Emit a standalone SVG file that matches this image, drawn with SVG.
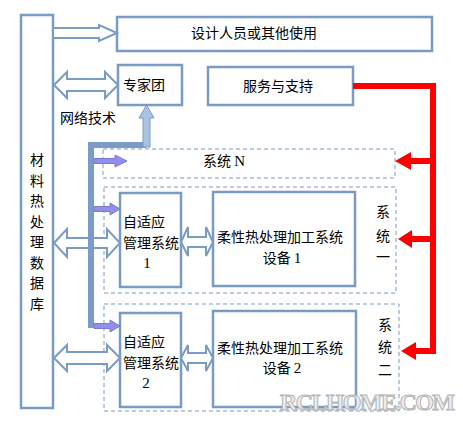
<svg xmlns="http://www.w3.org/2000/svg" width="463" height="427" viewBox="0 0 463 427">
<style>
.box{fill:#fff;stroke:#7a9cc4;stroke-width:2.5}
.dash{fill:none;stroke:#7a9cc4;stroke-width:1;stroke-dasharray:4,3}
.hol{fill:#fff;stroke:#7a9cc4;stroke-width:2}
.t{font-family:"Noto Sans CJK SC","Liberation Sans",sans-serif;font-size:14px;fill:#000}
.n{font-family:"Liberation Serif",serif;font-size:15px;fill:#000}
.red{fill:none;stroke:#ff0000;stroke-width:6}
.redh{fill:#ff0000}
.pur{fill:#9090ec;stroke:#7a7ad0;stroke-width:1}
</style>
<rect width="463" height="427" fill="#fff"/>
<g id="db"><rect class="box" x="21" y="15" width="32" height="393"/>
<text class="t" x="37" text-anchor="middle"><tspan x="37" y="165">材</tspan><tspan x="37" y="185.5">料</tspan><tspan x="37" y="206">热</tspan><tspan x="37" y="226.5">处</tspan><tspan x="37" y="247">理</tspan><tspan x="37" y="267.5">数</tspan><tspan x="37" y="288">据</tspan><tspan x="37" y="308.5">库</tspan></text></g>
<g id="top"><rect class="box" x="117" y="17" width="315" height="34"/><text class="t" x="254" y="38" text-anchor="middle" font-size="15">设计人员或其他使用</text></g>
<g id="zjt"><rect class="box" x="118" y="65" width="64" height="40"/><text class="t" x="123" y="90">专家团</text></g>
<g id="fw"><rect class="box" x="208" y="67" width="145" height="38"/><text class="t" x="278" y="91" text-anchor="middle">服务与支持</text></g>
<text class="t" x="60" y="123" font-size="13">网络技术</text>
<g id="sysN"><rect class="dash" x="103" y="149" width="292" height="29"/><text class="t" x="203" y="166">系统 <tspan class="n">N</tspan></text></g>
<g id="sys1"><rect class="dash" x="104" y="187" width="292" height="106"/>
<text class="t" x="383" y="217" text-anchor="middle">系</text><text class="t" x="383" y="241" text-anchor="middle">统</text><text class="t" x="383" y="262" text-anchor="middle">一</text></g>
<g id="ad1"><rect class="box" x="120" y="193" width="61" height="94"/>
<text class="t" x="123" y="227">自适应</text><text class="t" x="123" y="248">管理系统</text><text class="n" x="147" y="268" text-anchor="middle">1</text></g>
<g id="rx1"><rect class="box" x="213" y="192" width="142" height="94"/>
<text class="t" x="217" y="242">柔性热处理加工系统</text><text class="t" x="282" y="263" text-anchor="middle">设备 <tspan class="n">1</tspan></text></g>
<g id="sys2"><rect class="dash" x="104" y="304" width="295" height="107"/>
<text class="t" x="385" y="330" text-anchor="middle">系</text><text class="t" x="385" y="352" text-anchor="middle">统</text><text class="t" x="385" y="375" text-anchor="middle">二</text></g>
<g id="ad2"><rect class="box" x="120" y="313" width="61" height="94"/>
<text class="t" x="123" y="347">自适应</text><text class="t" x="123" y="368">管理系统</text><text class="n" x="146" y="388" text-anchor="middle">2</text></g>
<g id="rx2"><rect class="box" x="213" y="311" width="143" height="96"/>
<text class="t" x="217" y="353">柔性热处理加工系统</text><text class="t" x="282" y="373" text-anchor="middle">设备 <tspan class="n">2</tspan></text></g>
<g id="connectors">
<polygon class="hol" points="53,28 99,28 99,25 117,33 99,41 99,38 53,38"/>
<polygon class="hol" points="54,85 67,72 67,79 105,79 105,72 118,85 105,98 105,91 67,91 67,98"/>
<polygon class="hol" points="54,243 67,229 67,238 107,238 107,229 120,243 107,257 107,248 67,248 67,257"/>
<polygon class="hol" points="181,242 188,227 188,237 206,237 206,227 213,242 206,256 206,247 188,247 188,256"/>
<polygon class="hol" points="54,358 67,345 67,352 107,352 107,345 120,358 107,371 107,364 67,364 67,371"/>
<polygon class="hol" points="181,358 188,345 188,353 206,353 206,345 213,358 206,371 206,363 188,363 188,371"/>
<path d="M91,328 V145 H146" fill="none" stroke="#7a9cc4" stroke-width="6"/>
<polygon points="143,147 143,118 139,118 146.5,105 154,118 150,118 150,147" fill="#a9c3e3" stroke="#7a9cc4" stroke-width="1"/>
<polygon class="pur" points="94,158.5 115,158.5 115,155 127,161 115,167 115,163.5 94,163.5"/>
<polygon class="pur" points="94,206.5 110,206.5 110,203 120,209 110,215 110,211.5 94,211.5"/>
<polygon class="pur" points="94,323.5 110,323.5 110,320 120,326 110,332 110,328.5 94,328.5"/>
<path class="red" d="M353,86 H433 V351 H414 M433,161 H410 M433,239 H411"/>
<polygon class="redh" points="395,161 411,152 411,170"/>
<polygon class="redh" points="398,239 412,230 412,248"/>
<polygon class="redh" points="401,351 416,342 416,360"/>
</g>
<text x="280" y="410" font-family="Liberation Serif,serif" font-weight="bold" font-size="24" textLength="175" fill="#ececec" stroke="#b4b4b4" stroke-width="1">RCLHOME.COM</text>
</svg>
